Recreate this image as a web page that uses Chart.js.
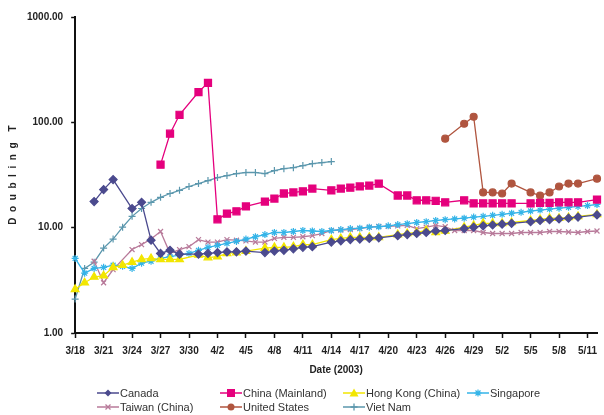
<!DOCTYPE html>
<html>
<head>
<meta charset="utf-8">
<script src="https://cdn.jsdelivr.net/npm/chart.js@4.4.1/dist/chart.umd.min.js"></script>
<style>
  body { margin: 0; background: #fff; }
  #wrap { position: relative; width: 604px; height: 415px; }
  #chart { display: block; }
  .leg { position: absolute; display: flex; align-items: center; font: 11px "Liberation Sans", Arial, sans-serif; color: #333; white-space: nowrap; }
  .leg svg { margin-right: 1px; }
</style>
</head>
<body>
<div id="wrap">
  <canvas id="chart" width="604" height="415"></canvas>
  <div id="legend"></div>
</div>
<script>
// Dates on the x axis (2003)
const dates = [
  "3/18","3/19","3/20","3/21","3/22","3/23","3/24","3/25","3/26","3/27","3/28","3/29","3/30","3/31",
  "4/1","4/2","4/3","4/4","4/5","4/6","4/7","4/8","4/9","4/10","4/11","4/12","4/13","4/14","4/15",
  "4/16","4/17","4/18","4/19","4/20","4/21","4/22","4/23","4/24","4/25","4/26","4/27","4/28","4/29",
  "4/30","5/1","5/2","5/3","5/4","5/5","5/6","5/7","5/8","5/9","5/10","5/11","5/12"
];
const yTicks = [1, 10, 100, 1000];

// Doubling time (days) per country
const canada = [null,null,17.7,23.0,28.6,null,15.2,17.4,7.6,5.7,6.1,5.6,null,5.6,
  5.7,5.8,5.9,5.9,6.0,null,5.8,6.0,6.1,6.3,6.5,6.6,null,7.3,7.5,
  7.7,7.8,7.9,8.0,null,8.4,8.6,8.8,9.0,9.3,9.4,null,9.8,10.1,
  10.4,10.6,10.8,11.0,null,11.4,11.7,11.9,12.1,12.3,12.6,null,13.2];
const chinaMainland = [null,null,null,null,null,null,null,null,null,39.7,78,118,null,194,
  237,12.0,13.6,14.3,15.9,null,17.7,18.9,21.1,21.6,22.1,23.5,null,22.6,23.5,
  24.0,24.6,25.1,26.2,null,20.2,20.2,18.2,18.2,18.0,17.4,null,18.2,17.0,
  17.0,17.0,17.0,17.0,null,17.0,17.2,17.2,17.4,17.4,17.4,null,18.5];
const hongKong = [2.6,3.0,3.4,3.5,4.2,4.4,4.7,5.0,5.1,5.0,5.0,5.0,null,5.5,
  5.2,5.3,5.7,5.8,6.0,null,6.4,6.5,6.5,6.6,6.9,6.9,null,7.7,7.9,
  8.1,8.1,8.1,8.1,null,8.6,8.8,9.0,9.4,9.0,9.3,null,10.1,10.5,
  11.0,11.0,11.0,11.2,null,11.7,12.0,12.3,12.3,12.5,12.8,null,13.4];
const singapore = [5.1,3.7,4.1,4.2,4.4,4.3,4.1,4.6,4.8,5.1,5.3,5.5,5.7,6.1,
  6.5,6.8,7.1,7.4,7.8,8.2,8.6,9.0,9.0,9.2,9.4,9.3,9.2,9.4,9.6,
  9.8,9.9,10.1,10.2,10.4,10.7,10.9,11.2,11.4,11.7,11.9,12.1,12.3,12.6,
  12.8,13.1,13.4,13.7,14.0,14.4,14.7,15.0,15.3,15.6,15.9,16.2,16.6];
const taiwan = [null,null,4.8,3.0,4.0,null,6.2,6.9,7.8,9.2,5.7,6.2,6.6,7.7,
  7.3,7.3,7.7,7.6,7.5,7.3,7.3,7.9,8.1,8.1,8.2,8.4,8.8,9.4,9.5,
  9.6,9.8,10.1,10.3,10.3,10.4,10.5,9.8,10.1,10.5,10.2,9.4,9.4,9.4,
  9.0,8.8,8.8,8.8,9.0,9.0,9.0,9.2,9.2,9.1,9.0,9.2,9.3];
const unitedStates = [null,null,null,null,null,null,null,null,null,null,null,null,null,null,
  null,null,null,null,null,null,null,null,null,null,null,null,null,null,null,
  null,null,null,null,null,null,null,null,null,null,70,null,97,113,
  21.6,21.6,21.1,26.2,null,21.6,20.2,21.6,24.6,26.2,26.2,null,29.2];
const vietNam = [2.1,4.1,4.7,6.4,7.8,10.1,12.8,15.2,17.4,19.4,21.1,22.6,24.6,26.2,
  28.0,29.9,31.2,32.6,33.4,33.4,32.6,34.8,36.3,37.1,38.9,40.5,41.5,42.4];

const FONT = '"Liberation Sans", Arial, sans-serif';

const series = [
  { label: 'Canada', data: canada, color: '#4b4a8e', point: 'rectRot', r: 4 },
  { label: 'China (Mainland)', data: chinaMainland, color: '#e5007d', point: 'rect', r: 5 },
  { label: 'Hong Kong (China)', data: hongKong, color: '#f2e600', point: 'triangle', r: 4.5 },
  { label: 'Singapore', data: singapore, color: '#34b4e8', point: 'star', r: 3.5 },
  { label: 'Taiwan (China)', data: taiwan, color: '#b87a9a', point: 'crossRot', r: 3.5 },
  { label: 'United States', data: unitedStates, color: '#b0553f', point: 'circle', r: 3.5 },
  { label: 'Viet Nam', data: vietNam, color: '#5b97ad', point: 'cross', r: 3.5 }
];

const datasets = series.map(s => ({
  label: s.label,
  data: s.data,
  borderColor: s.color,
  backgroundColor: s.color,
  pointBackgroundColor: s.color,
  pointBorderColor: s.color,
  pointStyle: s.point,
  pointRadius: s.r,
  pointBorderWidth: 1.2,
  borderWidth: 1.3,
  spanGaps: true,
  tension: 0
}));

new Chart(document.getElementById('chart'), {
  type: 'line',
  data: { labels: dates, datasets: datasets },
  options: {
    responsive: false,
    animation: false,
    layout: { padding: { top: 17, right: 2, bottom: 39, left: 7 } },
    plugins: { legend: { display: false }, tooltip: { enabled: false } },
    scales: {
      x: {
        offset: false,
        border: { color: '#111', width: 2 },
        grid: {
          drawOnChartArea: false,
          tickLength: 5,
          tickWidth: 1.5,
          tickColor: c => c.index % 3 === 0 ? '#111' : 'rgba(0,0,0,0)'
        },
        ticks: {
          autoSkip: false, maxRotation: 0, padding: 7, color: '#222',
          font: { family: FONT, size: 10, weight: 'bold' },
          callback: (v, i) => i % 3 === 0 ? dates[i] : ''
        },
        title: {
          display: true, text: 'Date (2003)', color: '#222',
          font: { family: FONT, size: 10, weight: 'bold' },
          padding: { top: 0, bottom: 0 }
        }
      },
      y: {
        type: 'logarithmic', min: 1, max: 1000,
        afterBuildTicks: s => { s.ticks = yTicks.map(v => ({ value: v })); },
        border: { color: '#111', width: 2 },
        grid: { drawOnChartArea: false, tickLength: 4, tickWidth: 1.5, tickColor: '#111' },
        ticks: {
          padding: 8, color: '#222',
          font: { family: FONT, size: 10, weight: 'bold' },
          callback: v => Number(v).toFixed(2)
        },
        title: {
          display: true, text: 'D  o  u  b  l  i  n  g    T', color: '#222',
          font: { family: FONT, size: 10, weight: 'bold' },
          padding: { top: 0, bottom: 0 }
        }
      }
    }
  }
});

// Legend laid out in equal-width columns like the original
const legendPos = [[97, 394], [220, 394], [343, 394], [467, 394], [97, 408], [220, 408], [343, 408]];
function markerSvg(s) {
  const c = s.color;
  let m = '';
  if (s.point === 'rectRot') m = `<polygon points="11,1.5 14.5,5 11,8.5 7.5,5" fill="${c}"/>`;
  else if (s.point === 'rect') m = `<rect x="7" y="1" width="8" height="8" fill="${c}"/>`;
  else if (s.point === 'triangle') m = `<polygon points="11,0.5 15.5,8.5 6.5,8.5" fill="${c}"/>`;
  else if (s.point === 'star') m = `<path d="M11 1.5V8.5M7.5 5H14.5M8.5 2.5L13.5 7.5M13.5 2.5L8.5 7.5" stroke="${c}" stroke-width="1.2"/>`;
  else if (s.point === 'crossRot') m = `<path d="M8.5 2.5L13.5 7.5M13.5 2.5L8.5 7.5" stroke="${c}" stroke-width="1.3"/>`;
  else if (s.point === 'circle') m = `<circle cx="11" cy="5" r="3.5" fill="${c}"/>`;
  else m = `<path d="M11 1.5V8.5M7.5 5H14.5" stroke="${c}" stroke-width="1.3"/>`;
  return `<svg width="22" height="10"><line x1="0" y1="5" x2="22" y2="5" stroke="${c}" stroke-width="1.5"/>${m}</svg>`;
}
const legend = document.getElementById('legend');
series.forEach((s, i) => {
  const d = document.createElement('div');
  d.className = 'leg';
  d.style.left = legendPos[i][0] + 'px';
  d.style.top = (legendPos[i][1] - 7) + 'px';
  d.innerHTML = markerSvg(s) + '<span>' + s.label + '</span>';
  legend.appendChild(d);
});
</script>
</body>
</html>
